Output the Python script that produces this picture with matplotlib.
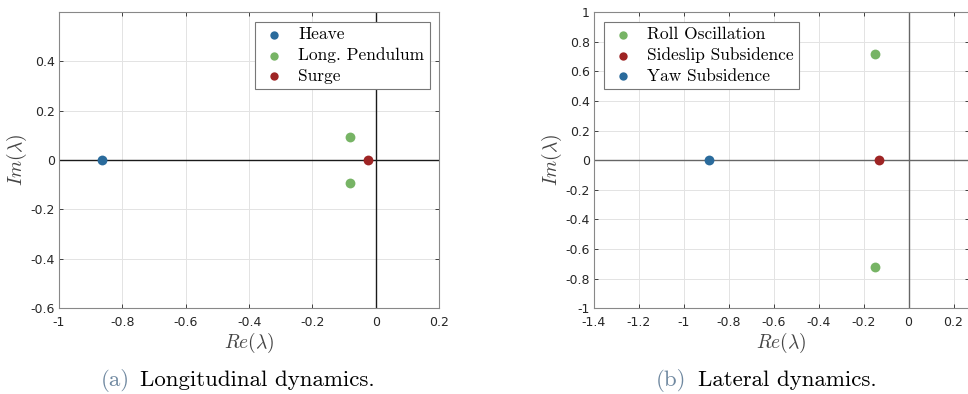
import matplotlib.pyplot as plt
import numpy as np

plt.rcParams['mathtext.fontset'] = 'cm'
plt.rcParams['axes.unicode_minus'] = False
plt.rcParams['font.family'] = 'DejaVu Sans'

# longitudinal eigenvalues
lon_names = ['Heave', 'Long. Pendulum', 'Surge']
lon_re = [[-0.865], [-0.08, -0.08], [-0.025]]
lon_im = [[0.0], [0.093, -0.093], [0.0]]

# lateral eigenvalues
lat_names = ['Roll Oscillation', 'Sideslip Subsidence', 'Yaw Subsidence']
lat_re = [[-0.15, -0.15], [-0.13], [-0.89]]
lat_im = [[0.72, -0.72], [0.0], [0.0]]

blue = '#2a6b9c'
green = '#77b465'
red = '#9e2424'
lon_cols = [blue, green, red]
lat_cols = [green, red, blue]

lon_xt = [-1, -0.8, -0.6, -0.4, -0.2, 0, 0.2]
lon_yt = [-0.6, -0.4, -0.2, 0, 0.2, 0.4]
lat_xt = [-1.4, -1.2, -1, -0.8, -0.6, -0.4, -0.2, 0, 0.2]
lat_yt = [-1, -0.8, -0.6, -0.4, -0.2, 0, 0.2, 0.4, 0.6, 0.8, 1]


def lbl(v):
    return '%g' % v


fig = plt.figure(figsize=(9.68, 3.94), dpi=100)
ax1 = fig.add_axes([0.061, 0.218, 0.3926, 0.7513])
ax2 = fig.add_axes([0.6136, 0.218, 0.387, 0.7513])


def style(ax, xt, yt, xlim, ylim, zc):
    ax.set_axisbelow(True)
    ax.axhline(0, color=zc, lw=1.0, zorder=2)
    ax.axvline(0, color=zc, lw=1.0, zorder=2)
    ax.set_xlim(xlim)
    ax.set_ylim(ylim)
    ax.set_xticks(xt)
    ax.set_xticklabels([lbl(v) for v in xt])
    ax.set_yticks(yt)
    ax.set_yticklabels([lbl(v) for v in yt])
    ax.grid(True, color='#e3e3e3', lw=0.7)
    ax.tick_params(direction='in', top=True, right=True, length=3,
                   width=0.6, labelsize=9, colors='#262626', pad=3)
    ax.tick_params(axis='x', pad=6)
    for s in ax.spines.values():
        s.set_color('#888888')
        s.set_linewidth(0.8)
    ax.set_xlabel(r'$Re(\lambda)$', fontsize=14, color='#444444', labelpad=1)
    ax.set_ylabel(r'$Im(\lambda)$', fontsize=14, color='#444444', labelpad=1)


style(ax1, lon_xt, lon_yt, (-1, 0.2), (-0.6, 0.6), '#1a1a1a')
style(ax2, lat_xt, lat_yt, (-1.4, 0.267), (-1, 1), '#666666')

for n, x, y, c in zip(lon_names, lon_re, lon_im, lon_cols):
    ax1.scatter(x, y, s=50, color=c, label=n, zorder=3, linewidths=0)
for n, x, y, c in zip(lat_names, lat_re, lat_im, lat_cols):
    ax2.scatter(x, y, s=50, color=c, label=n, zorder=3, linewidths=0)

for ax, loc in [(ax1, 'upper right'), (ax2, 'upper left')]:
    leg = ax.legend(loc=loc, prop={'family': 'cmr10', 'size': 12.5},
                    fancybox=False, framealpha=1, edgecolor='#777777',
                    borderaxespad=0.55, handletextpad=0.6, labelspacing=0.3,
                    borderpad=0.3, handlelength=1.6, markerscale=0.85)
    leg.get_frame().set_linewidth(0.8)

# captions
fig.text(0.134, 0.02, '(a)', color='#6f88a0', fontsize=16.5, family='cmr10', ha='right')
fig.text(0.145, 0.02, 'Longitudinal dynamics.', color='black', fontsize=16.5, family='cmr10', ha='left')
fig.text(0.709, 0.02, '(b)', color='#6f88a0', fontsize=16.5, family='cmr10', ha='right')
fig.text(0.721, 0.02, 'Lateral dynamics.', color='black', fontsize=16.5, family='cmr10', ha='left')

fig.savefig('out.png', dpi=100)
